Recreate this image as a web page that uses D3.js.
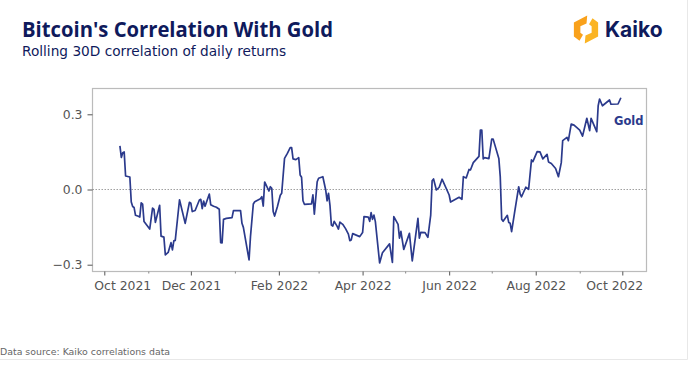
<!DOCTYPE html>
<html><head><meta charset="utf-8">
<script src="https://cdn.jsdelivr.net/npm/d3@7"></script>
<style>html,body{margin:0;padding:0;background:#fff}svg{display:block}text{font-family:"DejaVu Sans",sans-serif}</style>
</head><body><svg id="c" width="689" height="366"></svg>
<script>
const titleText = "Bitcoin's Correlation With Gold";
const subtitleText = "Rolling 30D correlation of daily returns";
const sourceText = "Data source: Kaiko correlations data";
const seriesName = "Gold";
const brandName = "Kaiko";
const startDate = new Date(2021, 9, 1);
const endDate = new Date(2022, 9, 1);
const yTicks = [-0.3, 0, 0.3];
const majorMonths = ["2021-10","2021-12","2022-02","2022-04","2022-06","2022-08","2022-10"];
const minorMonths = ["2021-11","2022-01","2022-03","2022-05","2022-07","2022-09"];
const dayOffsets = [11,12,13,14,15,18,19,20,21,22,24,25,26,27,28,30,32,34,35,36,39,40,42,43,45,47,48,49,50,53,57,60,61,62,64,67,68,69,70,71,74,75,77,79,81,82,83,84,86,90,91,96,97,98,102,103,105,106,110,111,112,113,116,117,118,119,120,122,124,125,127,129,131,132,133,135,137,138,139,140,141,146,147,148,150,151,154,156,157,158,159,160,161,162,164,165,166,168,170,172,173,174,175,180,182,183,186,187,188,189,190,191,194,196,201,203,204,207,208,209,211,215,217,221,222,223,226,228,230,231,232,234,236,238,243,244,250,252,253,255,257,258,260,264,265,266,267,268,271,273,274,278,279,280,281,284,285,286,287,289,292,293,294,297,299,301,302,305,307,309,312,313,315,318,320,322,323,326,327,329,331,335,337,340,342,343,347,348,349,351,356,357,362,364];
const goldCorr = [.174,.128,.147,.150,.054,.050,-.050,-.068,-.072,-.103,-.107,-.110,-.053,-.058,-.128,-.143,-.158,-.074,-.079,-.131,-.063,-.186,-.190,-.261,-.251,-.212,-.241,-.205,-.203,-.041,-.135,-.051,-.055,-.088,-.084,-.042,-.039,-.076,-.046,-.067,-.018,-.061,-.067,-.071,-.079,-.212,-.213,-.119,-.115,-.112,-.084,-.084,-.135,-.151,-.281,-.188,-.058,-.049,-.037,-.029,-.066,.030,-.006,.011,.005,-.088,-.106,-.068,-.023,-.015,.124,.144,.167,.167,.122,.119,.127,.058,.049,-.045,-.059,-.057,-.021,-.098,.031,.045,.051,-.002,-.045,-.015,-.062,-.142,-.146,-.127,-.146,-.158,-.130,-.139,-.156,-.178,-.204,-.201,-.176,-.188,-.172,-.108,-.110,-.127,-.092,-.119,-.102,-.128,-.293,-.252,-.217,-.291,-.108,-.139,-.194,-.167,-.239,-.175,-.285,-.115,-.194,-.171,-.172,-.191,-.102,.035,.042,-.002,.009,.041,-.022,-.050,-.031,-.039,.051,.046,.080,.078,.107,.132,.237,.237,.122,.127,.123,.201,.201,.124,.051,-.119,-.127,-.103,-.132,-.135,-.168,-.095,.011,-.018,-.029,.009,.001,.118,.111,.151,.150,.122,.140,.110,.104,.084,.051,.107,.195,.208,.195,.261,.257,.237,.213,.284,.235,.284,.231,.334,.361,.334,.357,.340,.341,.366];

const svg = d3.select("#c");
const parseMonth = d3.timeParse("%Y-%m");
const x = d3.scaleTime().domain([startDate, endDate]).range([104.3, 622.3]);
const y = d3.scaleLinear().domain([-0.3, 0.3]).range([264.7, 114.3]);
const L = 92.5, R = 646.5, T = 88.5, B = 271.5;
const navy = "#0f1a5c", lineCol = "#2b3a8c", grey = "#555";

svg.append("text").attr("x",22).attr("y",37).attr("style",'font-family:"Open Sans",sans-serif').attr("font-size",20.5).attr("font-weight",700).attr("fill",navy).attr("textLength",311).attr("lengthAdjust","spacingAndGlyphs").text(titleText);
svg.append("text").attr("x",22).attr("y",56).attr("font-size",13.7).attr("fill",navy).text(subtitleText);
svg.append("text").attr("x",0).attr("y",355).attr("font-size",9.4).attr("fill","#666").text(sourceText);
svg.append("path").attr("d","M0,359.5H687.5V0").attr("fill","none").attr("stroke","#e8e8e8");

// logo
const logo = svg.append("g").attr("transform","translate(586,29.5)");
const polar = (deg,r) => [r*Math.cos(deg*Math.PI/180), r*Math.sin(deg*Math.PI/180)];
const chevron = a => [polar(a+95,14),polar(a+30,14),polar(a-30,14),polar(a-60,13),polar(a-60,6),polar(a-30,6.5),polar(a+30,6.5),polar(a+95,6)];
logo.append("path").attr("d",d3.line()(chevron(180))+"Z").attr("fill","#f9a11b");
logo.append("path").attr("d",d3.line()(chevron(0))+"Z").attr("fill","#fbb423");
svg.append("text").attr("x",605).attr("y",37).attr("style","font-family:Inter,sans-serif").attr("font-size",21).attr("font-weight",700).attr("fill",navy).text(brandName);

// frame
svg.append("rect").attr("x",L).attr("y",T).attr("width",R-L).attr("height",B-T).attr("fill","none").attr("stroke","#bbb").attr("stroke-width",1.2);

// axes
const xAxis = d3.axisBottom(x).tickValues(majorMonths.map(parseMonth)).tickFormat(d3.timeFormat("%b %Y")).tickSize(4).tickPadding(6);
const gx = svg.append("g").attr("transform",`translate(0,${B})`).call(xAxis);
gx.select(".domain").remove();
gx.selectAll("line").attr("stroke","#555");
gx.selectAll("text").attr("font-size",12.4).attr("fill",grey).attr("font-family",'"DejaVu Sans",sans-serif')
  .attr("dx",(d,i,n) => i===0 ? 18 : i===n.length-1 ? -8 : 0);
const gm = svg.append("g").attr("transform",`translate(0,${B})`).call(d3.axisBottom(x).tickValues(minorMonths.map(parseMonth)).tickFormat("").tickSize(2));
gm.select(".domain").remove();
gm.selectAll("line").attr("stroke","#888");
const yAxis = d3.axisLeft(y).tickValues(yTicks).tickFormat(d3.format(".1f")).tickSize(5).tickPadding(5);
const gy = svg.append("g").attr("transform",`translate(${L},0)`).call(yAxis);
gy.select(".domain").remove();
gy.selectAll("line").attr("stroke","#555");
gy.selectAll("text").attr("font-size",12.4).attr("fill",grey).attr("font-family",'"DejaVu Sans",sans-serif');

svg.append("line").attr("x1",L).attr("x2",R).attr("y1",y(0)).attr("y2",y(0)).attr("stroke","#888").attr("stroke-width",.8).attr("stroke-dasharray","1.5 1.5");

const pts = dayOffsets.map((d,i) => ({date:d3.timeDay.offset(startDate,d), v:goldCorr[i]}));
svg.append("path").datum(pts).attr("fill","none").attr("stroke",lineCol).attr("stroke-width",1.7).attr("stroke-linejoin","round")
  .attr("d", d3.line().x(d=>x(d.date)).y(d=>y(d.v)));
svg.append("text").attr("x",614).attr("y",125).attr("font-size",11.5).attr("font-weight",700).attr("fill",lineCol).text(seriesName);
</script></body></html>
